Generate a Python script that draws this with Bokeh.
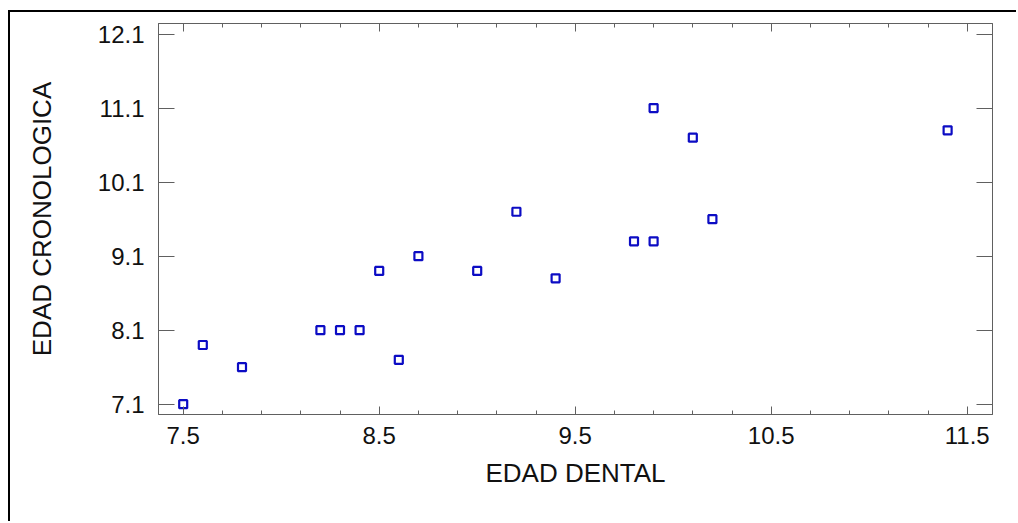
from bokeh.plotting import figure
from bokeh.models import FixedTicker, LinearAxis, Range1d
from bokeh.embed import file_html
from bokeh.resources import INLINE

# ---- data ----
edad_dental = [7.5, 7.6, 7.8, 8.2, 8.3, 8.4, 8.5, 8.6, 8.7, 9.0, 9.2, 9.4,
               9.8, 9.9, 9.9, 10.1, 10.2, 11.4]
edad_cronologica = [7.1, 7.9, 7.6, 8.1, 8.1, 8.1, 8.9, 7.7, 9.1, 8.9, 9.7, 8.8,
                    9.3, 9.3, 11.1, 10.7, 9.6, 10.8]

x_major_ticks = [7.5, 8.5, 9.5, 10.5, 11.5]
x_minor_ticks = [7.5, 7.7, 7.9, 8.1, 8.3, 8.5, 8.7, 8.9, 9.1, 9.3, 9.5, 9.7,
                 9.9, 10.1, 10.3, 10.5, 10.7, 10.9, 11.1, 11.3, 11.5]
y_major_ticks = [7.1, 8.1, 9.1, 10.1, 11.1, 12.1]

x_label = "EDAD DENTAL"
y_label = "EDAD CRONOLOGICA"

FONT = "Liberation Sans"
AXIS_COLOR = "#606060"
MARK_COLOR = "#0c0cc4"

# the figure is offset 10px (8px margin + 2px border) from the page's top-left
p = figure(width=1008, height=511, output_backend="svg", toolbar_location=None,
           x_range=Range1d(7.374, 11.629), y_range=Range1d(6.961, 12.243),
           min_border_left=148, min_border_right=26, min_border_top=11,
           min_border_bottom=109, background_fill_color="white",
           border_fill_color="white")
p.styles = {"margin-left": "8px", "margin-top": "10px",
            "border-left": "2px solid black", "border-top": "2px solid black"}
p.grid.visible = False
p.outline_line_color = AXIS_COLOR

p.scatter(edad_dental, edad_cronologica, marker="square", size=8,
          fill_color=None, line_color=MARK_COLOR, line_width=2.2)

def style_x(ax, labels=True):
    ax.ticker = FixedTicker(ticks=x_major_ticks, minor_ticks=x_minor_ticks)
    ax.major_tick_in = 8
    ax.major_tick_out = 0
    ax.minor_tick_in = 4
    ax.minor_tick_out = 0
    ax.axis_line_color = AXIS_COLOR
    ax.major_tick_line_color = AXIS_COLOR
    ax.minor_tick_line_color = AXIS_COLOR
    ax.major_label_text_font = FONT
    ax.major_label_text_font_size = "24px"
    ax.major_label_text_color = "#111111"
    ax.major_label_standoff = 12
    if not labels:
        ax.major_label_overrides = {t: "" for t in x_major_ticks}

def style_y(ax, labels=True):
    ax.ticker = FixedTicker(ticks=y_major_ticks, minor_ticks=[])
    ax.major_tick_in = 16
    ax.major_tick_out = 0
    ax.minor_tick_line_color = None
    ax.axis_line_color = AXIS_COLOR
    ax.major_tick_line_color = AXIS_COLOR
    ax.major_label_text_font = FONT
    ax.major_label_text_font_size = "24px"
    ax.major_label_text_color = "#111111"
    ax.major_label_standoff = 14
    if not labels:
        ax.major_label_overrides = {t: "" for t in y_major_ticks}

style_x(p.xaxis[0])
style_y(p.yaxis[0])
p.xaxis[0].axis_label = x_label
p.yaxis[0].axis_label = y_label
for ax, st in ((p.xaxis[0], 11), (p.yaxis[0], 38)):
    ax.axis_label_text_font = FONT
    ax.axis_label_text_font_size = "26px"
    ax.axis_label_text_font_style = "normal"
    ax.axis_label_text_color = "#111111"
    ax.axis_label_standoff = st

top = LinearAxis()
style_x(top, labels=False)
p.add_layout(top, "above")
right = LinearAxis()
style_y(right, labels=False)
p.add_layout(right, "right")

open("out.html", "w").write(file_html(p, INLINE))
